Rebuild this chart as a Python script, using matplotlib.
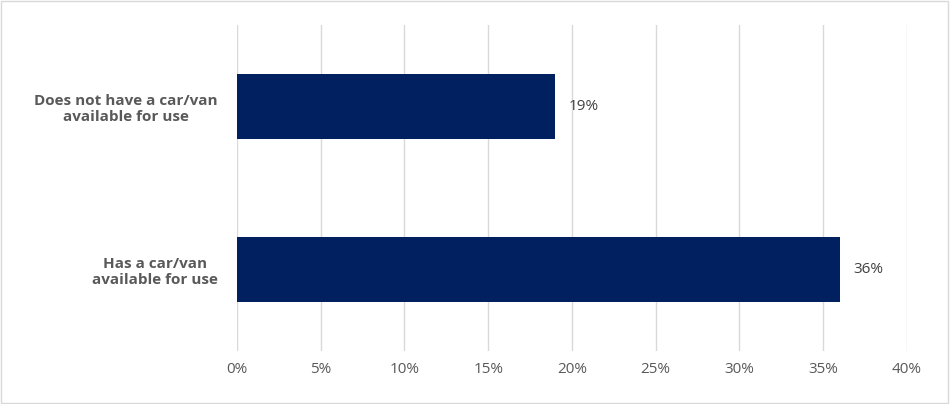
import matplotlib
matplotlib.use("Agg")
import matplotlib.pyplot as plt
from matplotlib.patches import Rectangle

categories = ["Has a car/van\navailable for use", "Does not have a car/van\navailable for use"]
values = [36, 19]
xticks = [0, 5, 10, 15, 20, 25, 30, 35, 40]

plt.rcParams['font.family'] = ['Open Sans', 'DejaVu Sans']
fig = plt.figure(figsize=(9.5, 4.04), dpi=100)
ax = fig.add_axes([0.2495, 0.131, 0.705, 0.807])
ax.barh(range(len(categories)), values, height=0.4, color="#002060", zorder=3)
for i, v in enumerate(values):
    ax.text(v + 0.8, i, f"{v}%", va="center", ha="left", fontsize=11, color="#404040")
ax.set_xlim(0, 40)
ax.set_ylim(-0.5, 1.5)
ax.set_xticks(xticks)
ax.set_xticklabels([f"{t}%" for t in xticks], fontsize=11, color="#595959")
ax.set_yticks(range(len(categories)))
ax.set_yticklabels(categories, fontsize=11, fontweight="bold", color="#595959",
                   multialignment="center")
ax.tick_params(length=0, pad=14)
ax.tick_params(axis="x", pad=8)
ax.grid(axis="x", color="#d9d9d9", linewidth=1, zorder=0)
for s in ax.spines.values():
    s.set_visible(False)
fig.patches.append(Rectangle((0.001, 0.002), 0.997, 0.995, transform=fig.transFigure,
                             fill=False, edgecolor="#d9d9d9", linewidth=1))
fig.savefig("out.png", dpi=100)
